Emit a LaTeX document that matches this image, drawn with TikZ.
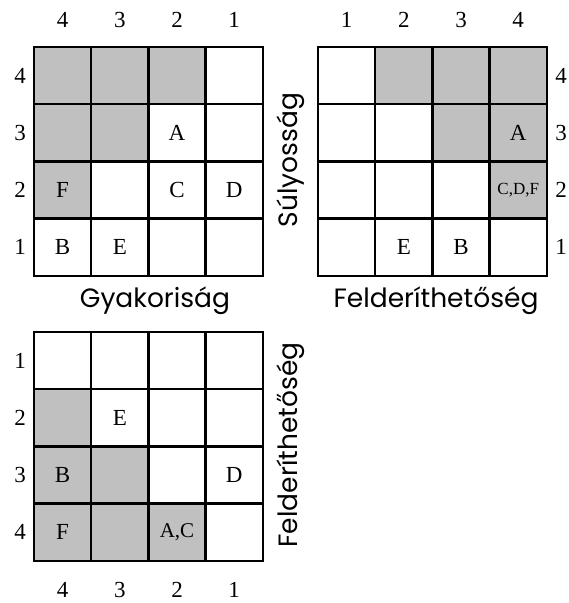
\documentclass[tikz,border=0pt]{standalone}
\usepackage{fontspec}
\setmainfont{Liberation Serif}
\newfontfamily\axisfont{Poppins}
\definecolor{shadegray}{RGB}{192,192,192}
\begin{document}
\begin{tikzpicture}[x=1pt,y=1pt,
  cell/.style={draw=black, line width=2.4pt, minimum size=57.2pt, inner sep=0pt, anchor=center},
  lbl/.style={font=\fontsize{23}{25}\selectfont, inner sep=0pt},
  small/.style={font=\fontsize{17}{19}\selectfont, inner sep=0pt},
  mid/.style={font=\fontsize{21}{23}\selectfont, inner sep=0pt},
  num/.style={font=\fontsize{23}{25}\selectfont, inner sep=0pt},
  axis/.style={font=\axisfont\fontsize{26.5}{28}\selectfont, inner sep=0pt}]
\useasboundingbox (0,0) rectangle (569,603);
% grid 1: top-left, x0=34, ytop=556
\foreach \i in {0,...,3}{
  \foreach \j in {0,...,3}{
    \pgfmathtruncatemacro\sh{(\i+\j<=2)?1:0}
    \ifnum\sh=1 \def\fc{shadegray}\else\def\fc{white}\fi
    \node[cell, fill=\fc] (ga-\i-\j) at ({34+57.2*(\j+0.5)},{556-57.2*(\i+0.5)}) {};
  }
}
% grid 2: top-right, x0=318, ytop=556
\foreach \i in {0,...,3}{
  \foreach \j in {0,...,3}{
    \pgfmathtruncatemacro\sh{(\j-\i>=1)?1:0}
    \ifnum\sh=1 \def\fc{shadegray}\else\def\fc{white}\fi
    \node[cell, fill=\fc] (gb-\i-\j) at ({318+57.2*(\j+0.5)},{556-57.2*(\i+0.5)}) {};
  }
}
% grid 3: bottom-left, x0=34, ytop=271
\foreach \i in {0,...,3}{
  \foreach \j in {0,...,3}{
    \pgfmathtruncatemacro\sh{(\i-\j>=1)?1:0}
    \ifnum\sh=1 \def\fc{shadegray}\else\def\fc{white}\fi
    \node[cell, fill=\fc] (gc-\i-\j) at ({34+57.2*(\j+0.5)},{271-57.2*(\i+0.5)}) {};
  }
}
% cell texts grid 1
\node[lbl] (a-A) at (ga-1-2) {A};
\node[lbl] (a-F) at (ga-2-0) {F};
\node[lbl] (a-C) at (ga-2-2) {C};
\node[lbl] (a-D) at (ga-2-3) {D};
\node[lbl] (a-B) at (ga-3-0) {B};
\node[lbl] (a-E) at (ga-3-1) {E};
% grid 2
\node[lbl] (b-A) at (gb-1-3) {A};
\node[small] (b-CDF) at (gb-2-3) {C,D,F};
\node[lbl] (b-E) at (gb-3-1) {E};
\node[lbl] (b-B) at (gb-3-2) {B};
% grid 3
\node[lbl] (c-E) at (gc-1-1) {E};
\node[lbl] (c-B) at (gc-2-0) {B};
\node[lbl] (c-D) at (gc-2-3) {D};
\node[lbl] (c-F) at (gc-3-0) {F};
\node[mid] (c-AC) at (gc-3-2) {A,C};
% axis numbers grid 1
\foreach \j/\t in {0/4,1/3,2/2,3/1}{
  \node[num] (a-col-\j) at ({34+57.2*(\j+0.5)},583) {\t};
}
\foreach \i/\t in {0/4,1/3,2/2,3/1}{
  \node[num] (a-row-\i) at (20,{556-57.2*(\i+0.5)}) {\t};
}
% grid 2
\foreach \j/\t in {0/1,1/2,2/3,3/4}{
  \node[num] (b-col-\j) at ({318+57.2*(\j+0.5)},583) {\t};
}
\foreach \i/\t in {0/4,1/3,2/2,3/1}{
  \node[num] (b-row-\i) at (561,{556-57.2*(\i+0.5)}) {\t};
}
% grid 3
\foreach \i/\t in {0/1,1/2,2/3,3/4}{
  \node[num] (c-row-\i) at (20,{271-57.2*(\i+0.5)}) {\t};
}
\foreach \j/\t in {0/4,1/3,2/2,3/1}{
  \node[num] (c-col-\j) at ({34+57.2*(\j+0.5)},13) {\t};
}
% axis titles
\node[axis] (t-gy) at (155,302) {Gyakoriság};
\node[axis] (t-fe1) at (436,302) {Felderíthetőség};
\node[axis, rotate=90] (t-su) at (291,443) {Súlyosság};
\node[axis, rotate=90] (t-fe2) at (291,158) {Felderíthetőség};
\end{tikzpicture}
\end{document}
